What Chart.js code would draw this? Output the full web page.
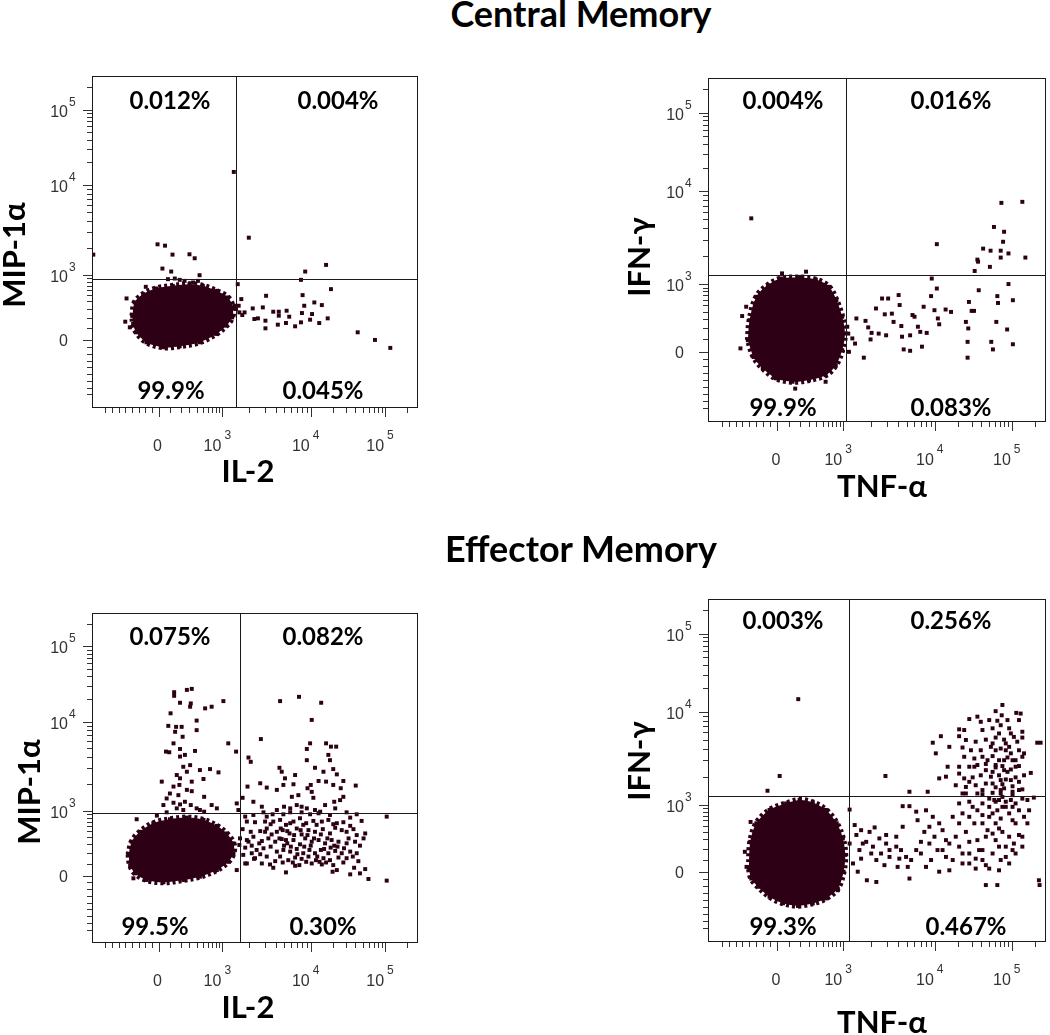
<!DOCTYPE html>
<html>
<head>
<meta charset="utf-8">
<title>Central and effector memory cytokine plots</title>
<script src="https://cdn.jsdelivr.net/npm/chart.js@4.4.1/dist/chart.umd.min.js"></script>
<style>
    body { margin: 0; background: #fff; }
    #page { position: relative; width: 1050px; height: 1035px; overflow: hidden; }
    #page canvas { position: absolute; }
    .section { position: absolute; left: 0; width: 1162px; text-align: center;
               font: bold 36px Lato, sans-serif; line-height: 36px; color: #000; }
</style>
</head>
<body>
<div id="page">
    <canvas id="cmMip" width="525" height="500" style="left:0;top:40px"></canvas>
    <canvas id="cmIfn" width="525" height="500" style="left:525px;top:40px"></canvas>
    <canvas id="emMip" width="525" height="460" style="left:0;top:575px"></canvas>
    <canvas id="emIfn" width="525" height="460" style="left:525px;top:575px"></canvas>
    <div class="section" style="top:-5px">Central Memory</div>
    <div class="section" style="top:530px">Effector Memory</div>
</div>

<script>
// All event coordinates are in display channels (0-1000) of the biexponential axes

const DOT = '#2d0016';

// axis ticks (real fluorescence values) and their labels
const majorTicks = [0, 1e3, 1e4, 1e5];
const majorExp = ['', '3', '4', '5'];

// quadrant frequencies: upper-left, upper-right, lower-left, lower-right
const cmMipPct = ['0.012%', '0.004%', '99.9%', '0.045%'];
const cmIfnPct = ['0.004%', '0.016%', '99.9%', '0.083%'];
const emMipPct = ['0.075%', '0.082%', '99.5%', '0.30%'];
const emIfnPct = ['0.003%', '0.256%', '99.3%', '0.467%'];

// quadrant gates [x, y]
const cmMipGate = [442, 389];
const cmIfnGate = [409, 427];
const emMipGate = [454, 394];
const emIfnGate = [416, 426];

// outline of the dense main population
const cmMipBlob = [[124,278],[131,318],[157,343],[197,360],[248,368],[299,373],[340,368],[381,353],[417,333],
    [432,303],[430,273],[412,248],[381,223],[330,198],[269,186],[218,183],[167,198],[136,228],[126,253],[124,278]];
const cmIfnBlob = [[118,238],[123,296],[143,364],[177,398],[216,417],[270,420],[319,414],[358,393],[380,354],
    [397,306],[405,257],[397,209],[378,165],[348,136],[299,122],[250,117],[201,127],[162,156],[135,189],[118,238]];
const emMipBlob = [[112,267],[122,307],[147,337],[188,363],[239,375],[291,380],[342,373],[383,355],[413,332],
    [434,302],[434,272],[418,246],[383,221],[331,201],[280,191],[219,184],[168,191],[132,211],[117,236],[112,267]];
const emIfnBlob = [[121,215],[125,292],[143,346],[182,385],[231,404],[271,414],[310,407],[349,385],[381,346],
    [399,302],[406,254],[401,205],[384,156],[349,127],[310,113],[266,106],[222,113],[182,132],[148,161],[128,185],[121,215]];

// individual events outside the main population
const cmMipEvents = [[201,493],[224,489],[247,462],[299,463],[315,451],[216,420],[243,411],[165,365],[233,388],
    [269,386],[330,400],[254,390],[284,383],[310,378],[325,383],[106,330],[102,260],[116,243],[435,711],[481,513],
    [4,462],[447,373],[458,328],[450,308],[437,308],[452,288],[461,280],[442,298],[468,288],[493,300],[509,270],
    [498,268],[524,303],[534,338],[532,263],[532,240],[556,290],[573,290],[573,278],[570,251],[597,293],[605,275],
    [595,256],[623,246],[641,258],[644,286],[651,308],[646,340],[641,386],[654,411],[682,318],[669,266],[675,283],
    [705,310],[697,256],[723,270],[718,431],[733,358],[815,228],[868,205],[915,181]];
const cmIfnEvents = [[128,592],[219,432],[290,437],[275,422],[113,335],[101,308],[96,214],[348,117],[258,97],
    [412,277],[415,257],[427,243],[435,228],[439,301],[417,204],[461,187],[466,294],[474,275],[484,259],[481,240],
    [497,330],[505,257],[515,359],[523,313],[527,252],[533,359],[544,315],[549,291],[564,369],[567,340],[572,279],
    [574,248],[579,211],[598,207],[598,252],[605,311],[611,306],[621,277],[628,262],[638,335],[633,219],[647,259],
    [662,417],[660,366],[670,325],[677,388],[680,301],[684,284],[703,327],[719,320],[763,291],[770,272],[768,233],
    [768,187],[772,349],[780,323],[787,323],[801,383],[838,233],[843,211],[853,291],[856,366],[858,346],[885,269],
    [889,401],[902,226],[902,354],[677,517],[789,439],[799,466],[797,472],[834,451],[814,504],[836,498],[866,498],
    [866,478],[873,524],[876,553],[846,567],[889,490],[868,637],[930,640],[939,478]];
const emMipEvents = [[252,760],[252,749],[291,767],[306,770],[270,728],[303,726],[301,716],[347,711],[367,716],
    [403,733],[241,696],[234,658],[258,655],[275,655],[321,674],[321,645],[255,640],[278,625],[250,605],[270,588],
    [227,580],[237,578],[316,582],[270,565],[285,570],[418,605],[442,580],[280,534],[301,539],[291,519],[260,509],
    [331,524],[362,527],[388,517],[214,489],[270,499],[306,489],[342,497],[250,474],[268,479],[239,453],[265,448],
    [291,464],[306,460],[229,438],[250,425],[219,418],[270,420],[285,428],[321,408],[331,403],[344,398],[260,408],
    [280,403],[303,418],[344,443],[367,418],[383,408],[444,423],[449,403],[199,386],[229,396],[137,375],[127,196],
    [577,733],[635,746],[703,728],[674,676],[518,618],[480,562],[487,549],[669,605],[659,588],[718,605],[733,595],
    [749,595],[725,570],[730,554],[659,554],[575,531],[582,519],[623,509],[592,499],[587,479],[618,481],[684,531],
    [710,519],[740,527],[751,511],[740,479],[718,489],[477,474],[516,484],[536,471],[567,464],[613,443],[633,448],
    [661,469],[671,479],[674,458],[695,491],[771,491],[763,469],[809,477],[771,443],[761,433],[679,440],[715,418],
    [743,428],[746,408],[495,428],[521,413],[589,413],[628,418],[643,413],[567,403],[608,408],[659,408],[684,403],
    [700,398],[781,396],[812,390],[904,383],[462,440],
    [470,383],[495,388],[526,396],[536,383],[554,390],[587,390],[608,396],[643,396],[669,390],[695,393],[730,388],
    [475,368],[500,366],[531,368],[548,360],[577,373],[595,358],[618,368],[638,378],[657,363],[679,370],[705,368],
    [725,373],[740,360],[771,366],[792,380],[827,370],[462,345],[487,337],[516,339],[536,347],[567,337],[585,342],
    [606,332],[628,347],[643,329],[664,342],[684,337],[708,345],[730,332],[746,349],[766,342],[781,337],[802,345],
    [838,332],[454,317],[475,312],[495,322],[521,309],[541,317],[562,307],[582,315],[599,302],[618,312],[638,299],
    [654,317],[674,307],[695,312],[715,302],[735,312],[756,307],[787,317],[807,307],[833,317],[452,297],[470,289],
    [490,295],[505,282],[526,287],[548,292],[567,277],[587,282],[608,277],[628,285],[648,272],[667,282],[684,272],
    [702,282],[725,272],[746,279],[766,272],[792,277],[812,272],[464,267],[500,257],[536,262],[577,262],[602,251],
    [623,259],[643,255],[664,262],[687,251],[710,257],[730,251],[756,259],[781,257],[475,241],[497,255],[556,228],
    [595,214],[623,234],[674,241],[705,238],[740,236],[771,244],[804,228],[838,224],[792,208],[822,211],[848,194],
    [904,189],[738,216],[751,221],[444,221],[470,241],
    [579,347],[599,339],[620,327],[640,342],[661,327],[681,317],[702,329],[722,317],[743,295],[589,295],[610,292],
    [630,269],[651,292],[671,295],[691,262],[712,285],[732,289],[753,292],[773,287],[698,246],[718,244],[657,246],
    [636,236],[616,244],[585,244],[562,248],[546,238],[521,241],[516,269],[490,272],[480,307],[513,302],[531,337],
    [551,329],[575,317],[595,312],[556,368],[608,363],[648,358],[689,358],[751,363],[792,355],[812,327],[822,295],
    [781,302],[800,262],[817,248]];
const emIfnEvents = [[267,708],[212,484],[176,441],[525,484],[984,581],[974,581],[979,180],[981,166],
    [109,263],[114,219],[126,350],[384,151],[267,105],
    [871,691],[851,673],[869,661],[912,668],[925,666],[797,657],[773,650],[807,642],[856,645],[886,647],[920,647],
    [743,620],[758,618],[812,618],[842,623],[891,623],[930,613],[689,600],[665,581],[743,600],[763,589],[792,584],
    [822,590],[851,596],[876,590],[905,598],[930,596],[714,569],[674,550],[753,567],[778,559],[807,559],[837,569],
    [866,564],[891,569],[920,559],[935,550],[758,540],[788,535],[812,540],[842,542],[861,530],[886,538],[910,530],
    [930,540],[709,511],[743,511],[773,511],[797,516],[822,519],[851,509],[871,513],[896,503],[920,513],[955,493],
    [684,477],[704,482],[743,491],[758,477],[783,480],[807,486],[837,482],[861,486],[881,474],[910,480],[935,486],
    [733,457],[763,452],[792,457],[822,462],[851,451],[871,460],[901,454],[930,445],[596,438],[650,438],[753,433],
    [812,431],[842,435],[866,433],[901,428],[964,421],[861,608],[881,579],[896,550],[851,559],[876,501],[866,443],
    [847,414],[881,409],[856,384],[901,394],[832,365],[812,404],[783,394],[797,433],[773,409],
    [419,386],[434,341],[439,312],[419,287],[448,268],[453,243],[429,229],[443,205],[470,180],[498,175],[478,321],
    [493,334],[468,292],[488,278],[507,302],[527,287],[512,258],[498,239],[522,224],[537,248],[557,278],[576,336],
    [596,396],[576,396],[571,268],[586,248],[561,219],[591,219],[596,185],[616,268],[630,292],[640,321],[620,355],
    [616,380],[645,384],[665,365],[655,336],[670,307],[679,268],[660,239],[645,219],[684,205],[714,209],[704,248],
    [714,287],[694,326],[724,365],[743,346],[753,375],[743,404],[763,321],[773,292],[753,258],[773,229],[792,214],
    [812,239],[802,268],[822,307],[788,346],[812,370],[832,394],[851,409],[871,394],[891,375],[851,346],[842,316],
    [861,278],[881,248],[832,214],[842,258],[871,321],[910,346],[920,312],[935,365],[930,278],[891,229],[861,209],
    [910,258],[905,287],[896,414],[950,384],[822,166],[856,166],
    [832,647],[866,632],[896,608],[915,584],[842,579],[881,559],[827,530],[901,530],[851,516],[876,530],[910,511],
    [842,496],[886,496],[866,472],[896,472],[920,467],[842,462],[876,448],[812,443],[901,438],[930,418],[861,414],
    [832,418],[881,394],[920,384],[797,384],[842,375],[866,360],[901,355],[773,365],[812,346],[861,331],[891,307],
    [827,326],[797,297],[851,297],[881,278],[812,268],[773,258],[743,278],[733,307],[704,297],[684,346],[655,287],
    [630,258],[601,239],[566,243],[537,268],[483,258],[458,287],[453,326],[527,312],[557,307],[694,268],[753,229],
    [724,239],[792,243],[822,224],[866,239],[901,268],[930,307],[945,346],[920,443],[945,414],[910,404],[871,423],
    [822,501],[788,511],[773,467],[763,433]];

// biexponential display transform used for the tick marks
function toChannel(v) {
    if (v < 0) return 204 + v * 0.204;
    if (v < 1e3) return 204 + 196 * Math.asinh(v / 250) / Math.asinh(4);
    if (v < 1e4) return 400 + 271 * Math.log10(v / 1e3);
    return 671 + 228 * Math.log10(v / 1e4);
}

const minorTicks = [];
for (let k = 1; k <= 8; k++) minorTicks.push(-100 * k);
for (let k = 1; k <= 9; k++) minorTicks.push(100 * k);
for (let k = 2; k <= 9; k++) minorTicks.push(k * 1e3, k * 1e4);
minorTicks.push(2e5);

const flowAxes = {
    id: 'flowAxes',
    afterDatasetsDraw(chart, args, opts) {
        const { ctx, chartArea: a, scales: { x, y } } = chart;
        ctx.save();
        ctx.strokeStyle = '#1a1a1a';
        ctx.lineWidth = 1;

        // quadrant gates
        const gx = Math.round(x.getPixelForValue(opts.gate[0])) + 0.5;
        const gy = Math.round(y.getPixelForValue(opts.gate[1])) + 0.5;
        ctx.beginPath();
        ctx.moveTo(gx, a.top); ctx.lineTo(gx, a.bottom);
        ctx.moveTo(a.left, gy); ctx.lineTo(a.right, gy);
        ctx.stroke();

        // frame
        ctx.strokeRect(a.left + 0.5, a.top + 0.5, a.right - a.left - 1, a.bottom - a.top - 1);

        // tick marks
        ctx.strokeStyle = '#333';
        ctx.beginPath();
        const marks = minorTicks.map(v => [v, 5]).concat(majorTicks.map(v => [v, 9]));
        marks.forEach(([v, len]) => {
            const px = Math.round(x.getPixelForValue(toChannel(v))) + 0.5;
            if (px > a.left && px < a.right) {
                ctx.moveTo(px, a.bottom); ctx.lineTo(px, a.bottom + len);
            }
            const py = Math.round(y.getPixelForValue(toChannel(v))) + 0.5;
            if (py > a.top && py < a.bottom) {
                ctx.moveTo(a.left, py); ctx.lineTo(a.left - len, py);
            }
        });
        ctx.stroke();

        // tick labels
        ctx.fillStyle = '#333';
        majorTicks.forEach((v, i) => {
            const px = x.getPixelForValue(toChannel(v));
            const py = y.getPixelForValue(toChannel(v));
            ctx.font = '16px "Liberation Sans", Arial, sans-serif';
            if (!majorExp[i]) {
                ctx.textAlign = 'center';
                ctx.fillText('0', px - 1, a.bottom + 43);
                ctx.textAlign = 'right';
                ctx.fillText('0', a.left - 24, py + 6);
                return;
            }
            ctx.textAlign = 'right';
            ctx.fillText('10', px - 1, a.bottom + 43);
            ctx.fillText('10', a.left - 24, py + 7);
            ctx.font = '12px "Liberation Sans", Arial, sans-serif';
            ctx.textAlign = 'left';
            ctx.fillText(majorExp[i], px + 2, a.bottom + 31);
            ctx.fillText(majorExp[i], a.left - 23, py - 4);
        });

        // quadrant frequencies
        ctx.fillStyle = '#000';
        ctx.font = 'bold 24px Lato, sans-serif';
        ctx.textAlign = 'center';
        opts.pct.forEach((txt, i) => {
            const [qx, qy] = opts.quadPos[i];
            ctx.fillText(txt, a.left + qx, a.top + qy + 9);
        });

        // axis titles
        ctx.font = 'bold 31px Lato, sans-serif';
        ctx.fillText(opts.xTitle, a.left + opts.xTitleAt[0], a.bottom + opts.xTitleAt[1]);
        ctx.translate(opts.yTitleAt[0], a.top + opts.yTitleAt[1]);
        ctx.rotate(-Math.PI / 2);
        ctx.fillText(opts.yTitle, 0, 0);
        ctx.restore();
    }
};

function pairs(list) {
    return list.map(([x, y]) => ({ x, y }));
}

function createFlowPlot(p) {
    const ctx = document.getElementById(p.id);
    return new Chart(ctx, {
        type: 'scatter',
        data: {
            datasets: [
                {
                    data: pairs(p.events),
                    pointStyle: 'rect',
                    pointRadius: 2.8,
                    pointBorderWidth: 0,
                    backgroundColor: DOT
                },
                {
                    // dense population, dashed thick edge gives the ragged outline
                    type: 'line',
                    data: pairs(p.blob),
                    fill: 'shape',
                    tension: 0.35,
                    borderColor: DOT,
                    borderWidth: 6,
                    borderDash: [3, 3],
                    backgroundColor: DOT,
                    pointStyle: 'rect',
                    pointRadius: 2.8,
                    pointBorderWidth: 0,
                    pointBackgroundColor: DOT
                }
            ]
        },
        options: {
            responsive: false,
            animation: false,
            events: [],
            layout: { padding: p.pad },
            scales: {
                x: { type: 'linear', min: 0, max: 1000, display: false },
                y: { type: 'linear', min: 0, max: 1000, display: false }
            },
            plugins: {
                legend: { display: false },
                tooltip: { enabled: false },
                flowAxes: {
                    gate: p.gate,
                    pct: p.pct,
                    quadPos: p.quadPos,
                    xTitle: p.xTitle,
                    yTitle: p.yTitle,
                    xTitleAt: p.xTitleAt,
                    yTitleAt: p.yTitleAt
                }
            }
        },
        plugins: [flowAxes]
    });
}

const panels = [
    { id: 'cmMip', blob: cmMipBlob, events: cmMipEvents, gate: cmMipGate, pct: cmMipPct,
      xTitle: 'IL-2', yTitle: 'MIP-1α', pad: { left: 92, top: 36, right: 107, bottom: 132 },
      quadPos: [[78, 24], [246, 24], [79, 314], [231, 314]], xTitleAt: [156, 74], yTitleAt: [25, 179] },
    { id: 'cmIfn', blob: cmIfnBlob, events: cmIfnEvents, gate: cmIfnGate, pct: cmIfnPct,
      xTitle: 'TNF-α', yTitle: 'IFN-γ', pad: { left: 183, top: 38, right: 2, bottom: 118 },
      quadPos: [[75, 22], [243, 22], [75, 329], [243, 329]], xTitleAt: [174, 75], yTitleAt: [125, 179] },
    { id: 'emMip', blob: emMipBlob, events: emMipEvents, gate: emMipGate, pct: emMipPct,
      xTitle: 'IL-2', yTitle: 'MIP-1α', pad: { left: 92, top: 38, right: 107, bottom: 92 },
      quadPos: [[78, 23], [231, 23], [63, 313], [231, 313]], xTitleAt: [156, 75], yTitleAt: [40, 179] },
    { id: 'emIfn', blob: emIfnBlob, events: emIfnEvents, gate: emIfnGate, pct: emIfnPct,
      xTitle: 'TNF-α', yTitle: 'IFN-γ', pad: { left: 183, top: 24, right: 3, bottom: 93 },
      quadPos: [[75, 21], [243, 21], [75, 327], [258, 327]], xTitleAt: [174, 91], yTitleAt: [125, 162] }
];

document.addEventListener('DOMContentLoaded', () => {
    panels.forEach(createFlowPlot);
});
</script>
</body>
</html>
